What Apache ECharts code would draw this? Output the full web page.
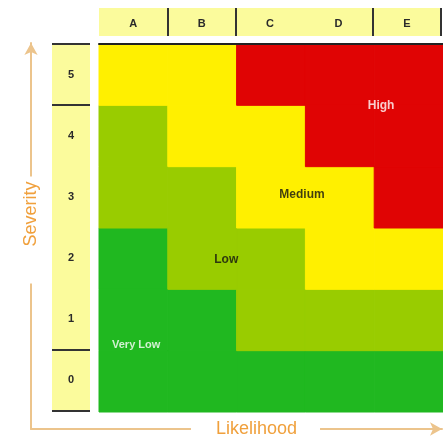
<!DOCTYPE html>
<html>
<head>
<meta charset="utf-8">
<script src="https://cdn.jsdelivr.net/npm/echarts@6/dist/echarts.min.js"></script>
<style>
  html, body { margin: 0; padding: 0; background: #fff; }
  #chart { width: 443px; height: 441px; }
</style>
</head>
<body>
<div id="chart"></div>
<script>
// likelihood columns and severity rows
const likelihood = ['A', 'B', 'C', 'D', 'E']
const severity = ['0', '1', '2', '3', '4', '5']

// risk level per cell, rows from severity 0 (bottom) up to 5 (top)
// 0 = very low, 1 = low, 2 = medium, 3 = high
const riskLevels = [
  [0, 0, 0, 0, 0],
  [0, 0, 1, 1, 1],
  [0, 1, 1, 2, 2],
  [1, 1, 2, 2, 3],
  [1, 2, 2, 3, 3],
  [2, 2, 3, 3, 3]
]

const levelColors = ['#20b820', '#99cc00', '#fff000', '#e00404']

// zone names and where they sit (x: likelihood index, y: severity index)
const zoneNames = ['Very Low', 'Low', 'Medium', 'High']
const zoneX = [0.04, 1.35, 2.45, 3.6]
const zoneY = [0.59, 1.98, 3.04, 4.5]
const zoneTextColors = ['#ffffff', '#111', '#111', '#fff']

// which boundaries get a separator (index = boundary before that category)
const colSeparators = [1, 2, 4]
const rowSeparators = [0, 1, 5]

const cells = []
riskLevels.forEach((row, s) => {
  row.forEach((level, l) => cells.push([l, s, level]))
})

const zones = zoneNames.map((name, i) => ({
  name,
  value: [zoneX[i], zoneY[i]],
  label: {
    color: zoneTextColors[i],
    fontWeight: 'bold',
    fontSize: i === 0 ? 11 : 12
  }
}))

const frameColor = '#ecc48c'
const nameColor = '#f0a03c'
const nameFont = '18px "Liberation Sans"'

const chart = echarts.init(document.getElementById('chart'))

chart.setOption({
  backgroundColor: '#fff',
  animation: false,
  grid: [
    // main matrix
    { left: 99, right: 0, top: 44, bottom: 29, outerBoundsMode: 'none' },
    // top label band
    { left: 99, right: 2, top: 8, height: 28, show: true, backgroundColor: '#fbfb9c', borderWidth: 0, outerBoundsMode: 'none' },
    // left label band
    { left: 52, width: 38, top: 44, bottom: 30, show: true, backgroundColor: '#fbfb9c', borderWidth: 0, outerBoundsMode: 'none' },
    // outer arrows
    { left: 31, right: 1, top: 43, bottom: 12, outerBoundsMode: 'none' }
  ],
  xAxis: [
    {
      gridIndex: 0, type: 'value', min: -0.5, max: 4.5, position: 'top',
      axisLine: { show: true, onZero: false, lineStyle: { color: '#222', width: 2 } },
      axisTick: { show: false }, axisLabel: { show: false }, splitLine: { show: false },
      z: 5
    },
    {
      gridIndex: 1, type: 'category', data: likelihood,
      axisLine: { show: false }, axisTick: { show: false },
      axisLabel: { inside: true, margin: 7, color: '#2a2a2a', fontWeight: 'bold', fontSize: 11, fontFamily: 'Liberation Sans' },
      splitLine: {
        show: true,
        interval: (i) => colSeparators.includes(i),
        lineStyle: { color: '#333', width: 2 }
      }
    },
    { gridIndex: 2, type: 'value', show: false },
    {
      gridIndex: 3, type: 'value', min: 0, max: 1, position: 'bottom',
      axisLine: {
        show: true, onZero: false, symbol: ['none', 'arrow'], symbolSize: [10, 12],
        lineStyle: { color: frameColor, width: 2 }
      },
      axisTick: { show: false }, axisLabel: { show: false }, splitLine: { show: false }
    }
  ],
  yAxis: [
    {
      gridIndex: 0, type: 'value', min: -0.5, max: 5.5,
      axisLine: { show: false }, axisTick: { show: false }, axisLabel: { show: false }, splitLine: { show: false }
    },
    { gridIndex: 1, type: 'value', show: false },
    {
      gridIndex: 2, type: 'category', data: severity,
      axisLine: { show: false }, axisTick: { show: false },
      axisLabel: { inside: true, margin: 19, align: 'center', color: '#2a2a2a', fontWeight: 'bold', fontSize: 11, fontFamily: 'Liberation Sans' },
      splitLine: {
        show: true,
        interval: (i) => rowSeparators.includes(i),
        lineStyle: { color: '#333', width: 2 }
      }
    },
    {
      gridIndex: 3, type: 'value', min: 0, max: 1, position: 'left',
      axisLine: {
        show: true, onZero: false, symbol: ['none', 'arrow'], symbolSize: [10, 12],
        lineStyle: { color: frameColor, width: 2 }
      },
      axisTick: { show: false }, axisLabel: { show: false }, splitLine: { show: false }
    }
  ],
  // axis titles sit in a gap cut out of the arrows
  graphic: [
    {
      type: 'text', x: 255.5, y: 429, z: 100,
      style: {
        text: 'Likelihood', font: nameFont, fill: nameColor,
        align: 'center', verticalAlign: 'middle',
        backgroundColor: '#fff', padding: [3, 23, 3, 25]
      }
    },
    {
      type: 'text', x: 31, y: 230, rotation: Math.PI / 2, z: 100,
      style: {
        text: 'Severity', font: nameFont, fill: nameColor,
        align: 'center', verticalAlign: 'middle',
        backgroundColor: '#fff', padding: [3, 5, 3, 37]
      }
    }
  ],
  series: [
    {
      type: 'custom',
      xAxisIndex: 0,
      yAxisIndex: 0,
      data: cells,
      renderItem: (params, api) => {
        const x = api.value(0)
        const y = api.value(1)
        const p0 = api.coord([x - 0.5, y + 0.5])
        const p1 = api.coord([x + 0.5, y - 0.5])
        const color = levelColors[api.value(2)]
        return {
          type: 'rect',
          shape: { x: p0[0], y: p0[1], width: p1[0] - p0[0], height: p1[1] - p0[1] },
          style: { fill: color, stroke: color, lineWidth: 1 }
        }
      },
      z: 1
    },
    {
      type: 'scatter',
      xAxisIndex: 0,
      yAxisIndex: 0,
      symbolSize: 0,
      data: zones,
      label: {
        show: true,
        position: 'inside',
        formatter: '{b}',
        fontFamily: 'Liberation Sans'
      },
      z: 3
    }
  ]
})
</script>
</body>
</html>
